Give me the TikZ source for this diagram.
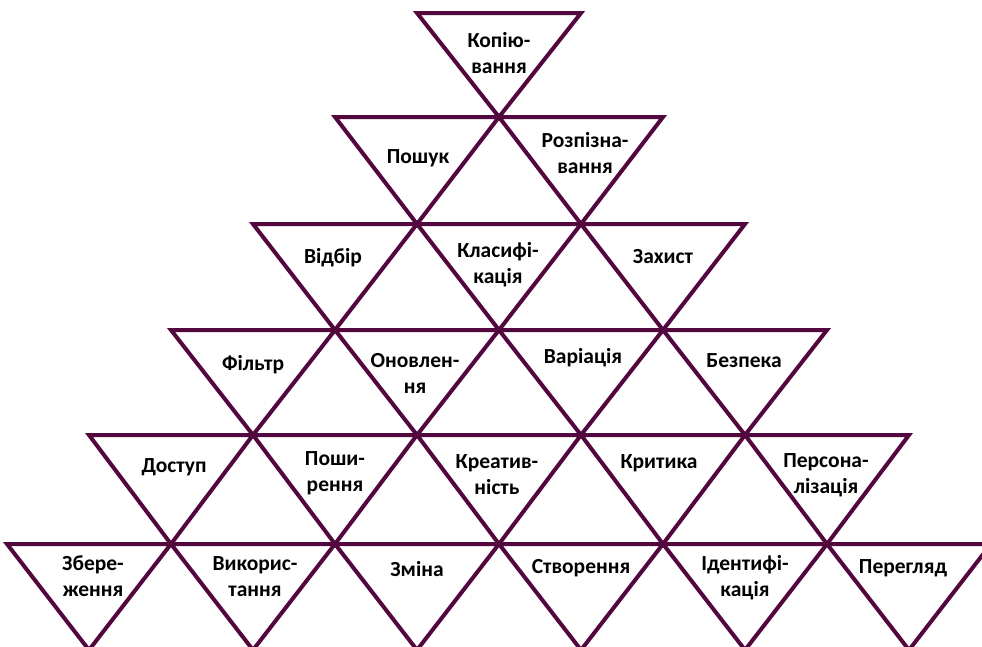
\documentclass[tikz,border=0pt]{standalone}
\usepackage{fontspec}
\setmainfont{Carlito}
\definecolor{plum}{RGB}{82,8,62}
\newcommand\twoline[2]{\begin{tabular}[t]{@{}c@{}}#1\\#2\end{tabular}}
\begin{document}
\begin{tikzpicture}[x=1pt,y=-1pt,
  tri/.style={draw=plum,line width=4pt,line join=miter},
  lbl/.style={font=\fontsize{21.5}{26}\selectfont\bfseries,anchor=base,inner sep=0pt,text=black}]
\useasboundingbox (0,0) rectangle (982,646);
\clip (0,0) rectangle (982,646);
\foreach \r/\t/\b in {0/13/117, 1/117/224, 2/224/330, 3/330/435, 4/435/544, 5/544/650} {
  \foreach \k in {0,...,\r} {
    \pgfmathsetmacro\cx{499 + 164*(\k - \r/2)}
    \draw[tri] (\cx-82,\t) -- (\cx+82,\t) -- (\cx,\b) -- cycle;
  }
}
% row 1
\node[lbl] (kop) at (499,47) {\twoline{Копію-}{вання}};
% row 2
\node[lbl] (posh) at (418,163) {Пошук};
\node[lbl] (rozp) at (585,147) {\twoline{Розпізна-}{вання}};
% row 3
\node[lbl] (vidb) at (333,263) {Відбір};
\node[lbl] (klas) at (498,257) {\twoline{Класифі-}{кація}};
\node[lbl] (zakh) at (663,263) {Захист};
% row 4
\node[lbl] (filt) at (253,370) {Фільтр};
\node[lbl] (onov) at (415,367) {\twoline{Оновлен-}{ня}};
\node[lbl] (var) at (583,363) {Варіація};
\node[lbl] (bezp) at (744,367) {Безпека};
% row 5
\node[lbl] (dost) at (174,472) {Доступ};
\node[lbl] (poshy) at (335,465) {\twoline{Поши-}{рення}};
\node[lbl] (kreat) at (497,468) {\twoline{Креатив-}{ність}};
\node[lbl] (kryt) at (659,468) {Критика};
\node[lbl] (pers) at (826,467) {\twoline{Персона-}{лізація}};
% row 6
\node[lbl] (zber) at (93,570) {\twoline{Збере-}{ження}};
\node[lbl] (vyk) at (255,570) {\twoline{Викорис-}{тання}};
\node[lbl] (zmin) at (417,576) {Зміна};
\node[lbl] (stvor) at (581,573) {Створення};
\node[lbl] (ident) at (745,570) {\twoline{Ідентифі-}{кація}};
\node[lbl] (pereg) at (903,573) {Перегляд};
\end{tikzpicture}
\end{document}
